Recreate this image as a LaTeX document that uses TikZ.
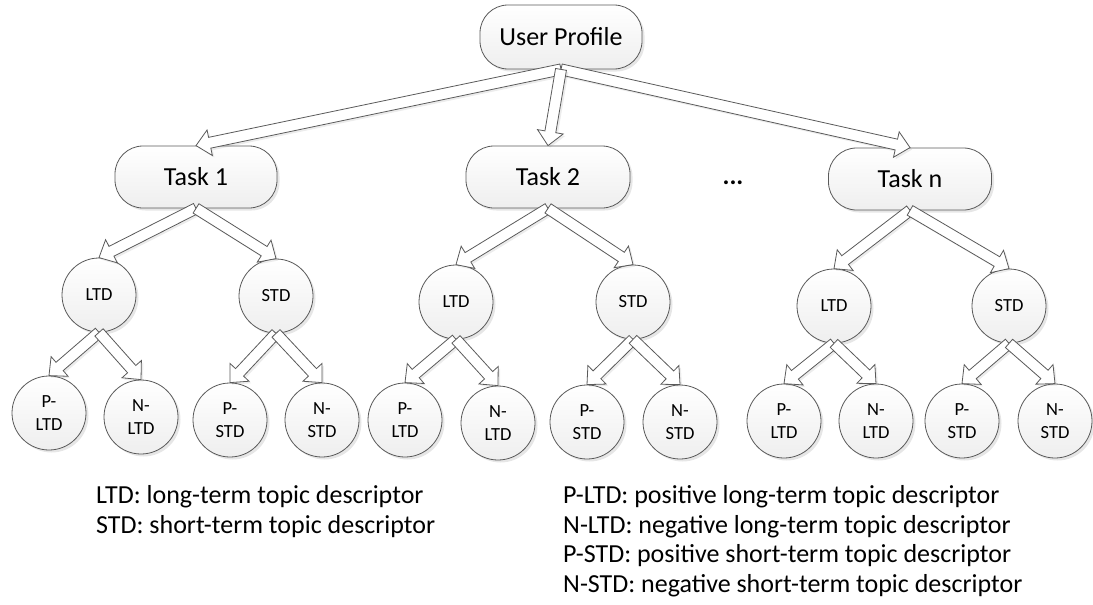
\documentclass[tikz,border=0pt]{standalone}
\usepackage{fontspec}
\setmainfont{Carlito}
\usetikzlibrary{calc,shadows}
\definecolor{edgegray}{HTML}{5A5A5A}
\tikzset{
  base/.style={draw=edgegray, line width=0.8pt, top color=white, bottom color=gray!13,
    drop shadow={opacity=0.2, shadow xshift=2.5pt, shadow yshift=-2.5pt}},
  taskbox/.style={base, rectangle, rounded corners=28pt, minimum width=162pt, minimum height=62pt,
    inner sep=0pt, font=\fontsize{26}{30}\selectfont},
  topicnode/.style={base, circle, minimum size=74pt, inner sep=0pt,
    font=\fontsize{18.5}{22.5}\selectfont, align=center},
  barrow/.style={draw=edgegray, line width=0.8pt, fill=white, line join=miter,
    drop shadow={opacity=0.15, shadow xshift=2pt, shadow yshift=-2pt}},
  legend/.style={anchor=base west, inner sep=0pt, font=\fontsize{26}{30}\selectfont}
}
\newcommand\blockarrow[2]{%
  \coordinate (neck) at ($(#2)!14pt!(#1)$);
  \draw[barrow] ($(#1)!5.5pt!90:(#2)$) -- ($(neck)!5.5pt!90:(#2)$) -- ($(neck)!13pt!90:(#2)$)
    -- (#2) -- ($(neck)!13pt!-90:(#2)$) -- ($(neck)!5.5pt!-90:(#2)$) -- ($(#1)!5.5pt!-90:(#2)$) -- cycle;
}
\begin{document}
\begin{tikzpicture}[x=1pt,y=-1pt]
\useasboundingbox (0,0) rectangle (1093,605);
% top and tasks
\node[taskbox, minimum height=64pt] (up) at (561,37) {User Profile};
\node[taskbox] (t1) at (196,177) {Task 1};
\node[taskbox, minimum width=164pt] (t2) at (548,177) {Task 2};
\node[taskbox, minimum width=163pt] (tn) at (910,179) {Task n};
\node[font=\fontsize{26}{30}\selectfont\bfseries, inner sep=0pt] (dots) at (733,183) {...};
% task 1 subtree
\node[topicnode] (l1) at (99,295) {LTD};
\node[topicnode] (s1) at (276,296) {STD};
\node[topicnode] (pl1) at (49,413) {P-\\LTD};
\node[topicnode] (nl1) at (141,417) {N-\\LTD};
\node[topicnode] (ps1) at (230,420) {P-\\STD};
\node[topicnode] (ns1) at (322,420) {N-\\STD};
% task 2 subtree
\node[topicnode] (l2) at (456,302) {LTD};
\node[topicnode] (s2) at (633,302) {STD};
\node[topicnode] (pl2) at (405,420) {P-\\LTD};
\node[topicnode] (nl2) at (498,423) {N-\\LTD};
\node[topicnode] (ps2) at (587,422) {P-\\STD};
\node[topicnode] (ns2) at (680,422) {N-\\STD};
% task n subtree
\node[topicnode] (ln) at (834,306) {LTD};
\node[topicnode] (sn) at (1009,306) {STD};
\node[topicnode] (pln) at (784,421) {P-\\LTD};
\node[topicnode] (nln) at (876,421) {N-\\LTD};
\node[topicnode] (psn) at (962,421) {P-\\STD};
\node[topicnode] (nsn) at (1055,421) {N-\\STD};
% arrows
\blockarrow{up.south}{t1.north}
\blockarrow{up.south}{tn.north}
\blockarrow{up.south}{t2.north}
\blockarrow{t1.south}{l1.north}
\blockarrow{t1.south}{s1.north}
\blockarrow{t2.south}{l2.north}
\blockarrow{t2.south}{s2.north}
\blockarrow{tn.south}{ln.north}
\blockarrow{tn.south}{sn.north}
\blockarrow{l1.south}{pl1.north}
\blockarrow{l1.south}{nl1.north}
\blockarrow{s1.south}{ps1.north}
\blockarrow{s1.south}{ns1.north}
\blockarrow{l2.south}{pl2.north}
\blockarrow{l2.south}{nl2.north}
\blockarrow{s2.south}{ps2.north}
\blockarrow{s2.south}{ns2.north}
\blockarrow{ln.south}{pln.north}
\blockarrow{ln.south}{nln.north}
\blockarrow{sn.south}{psn.north}
\blockarrow{sn.south}{nsn.north}
% legend
\node[legend] (lg1) at (96,503) {LTD: long-term topic descriptor};
\node[legend] (lg2) at (96,533) {STD: short-term topic descriptor};
\node[legend] (lg3) at (563,503) {P-LTD: positive long-term topic descriptor};
\node[legend] (lg4) at (563,533) {N-LTD: negative long-term topic descriptor};
\node[legend] (lg5) at (563,562) {P-STD: positive short-term topic descriptor};
\node[legend] (lg6) at (563,592) {N-STD: negative short-term topic descriptor};
\end{tikzpicture}
\end{document}
